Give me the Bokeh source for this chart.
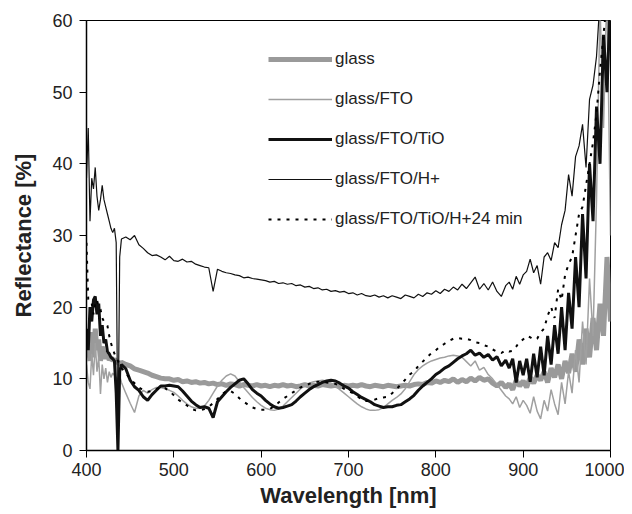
from bokeh.plotting import figure
from bokeh.models import Legend, LegendItem, Range1d, FixedTicker
from bokeh.embed import file_html
from bokeh.resources import INLINE

# wavelength grid [nm]
wavelength = list(range(400, 441, 2)) + list(range(445, 881, 5)) + list(range(884, 1001, 4))

series_names = ["glass", "glass/FTO", "glass/FTO/TiO", "glass/FTO/H+", "glass/FTO/TiO/H+24 min"]

glass = [
    13, 15, 12.5, 16.5, 13, 17, 14, 15.5, 12.5, 14.5, 13.5, 12.8, 13.5, 12.6, 13, 12.5, 12.8, 12.2, 12.4, 12, 12.3,
    12.0, 11.8, 11.4, 11.2, 11.0, 10.8, 10.5, 10.3, 10.1, 10.0,
    10.0, 9.8, 9.9, 9.6, 9.7, 9.5, 9.6, 9.4, 9.5, 9.3,
    9.4, 9.2, 9.3, 9.1, 9.3, 9.2, 9.0, 9.2, 9.1, 9.0,
    9.2, 9.0, 9.1, 8.9, 9.1, 9.0, 9.2, 9.0, 9.1, 8.9,
    9.0, 9.2, 9.0, 9.1, 9.0, 9.2, 9.1, 9.0, 9.1, 8.9,
    9.1, 9.0, 9.1, 9.0, 9.2, 9.0, 8.9, 9.1, 9.0, 8.9,
    9.1, 9.0, 8.9, 9.0, 9.1, 9.0, 9.2, 9.3, 9.2, 9.5,
    9.4, 9.7, 9.5, 9.8, 9.6, 10.0, 9.5, 9.9, 9.6, 10.1,
    9.7, 10.2, 9.8, 10.0, 9.4, 9.0, 9.5, 8.8,
    9.3, 8.5, 9.8, 9.0, 9.7, 8.8, 10.2, 9.4, 10.5, 9.8,
    11.0, 9.5, 11.5, 10.2, 12.0, 10.0, 12.5, 10.8, 13.5, 11.0,
    15.5, 12.0, 17.0, 13.0, 18.5, 14.0, 20.5, 16.0, 27.0, 18.0,
]

glass_fto = [
    12, 9.5, 8.6, 13.5, 10.5, 15, 11, 13, 7.9, 12, 10, 11.5, 9.5, 11, 10.2, 10.8, 10.5, 10.2, 9.8, 10.5, 9.5,
    8.0, 6.6, 5.3, 7.6, 8.4, 8.0, 8.5, 8.8, 8.8, 8.6,
    8.4, 8.1, 7.6, 7.0, 6.5, 6.1, 5.9, 5.9, 6.2, 7.0,
    8.0, 9.0, 9.8, 10.4, 10.7, 10.4, 9.6, 8.8, 8.1, 7.4,
    6.8, 6.3, 5.9, 5.7, 5.6, 5.8, 6.2, 6.8, 7.4, 8.0,
    8.6, 9.1, 9.4, 9.6, 9.7, 9.8, 9.7, 9.4, 9.0, 8.5,
    8.0, 7.5, 7.0, 6.5, 6.1, 5.8, 5.6, 5.6, 5.7, 6.0,
    6.5, 7.0, 7.4, 7.9, 8.6, 9.6, 10.6, 11.3, 11.8, 12.2,
    12.5, 12.7, 12.9, 13.0, 13.2, 13.3, 13.2, 13.0, 12.4, 11.8,
    12.5, 11.2, 11.6, 10.6, 10.0, 9.2, 8.4, 7.6,
    7.2, 6.5, 7.5, 6.0, 7.0, 6.3, 5.2, 7.5, 5.5, 4.4,
    7.0, 5.5, 8.5, 6.5, 5.0, 9.5, 6.5, 11.0, 8.0, 14.0,
    9.5, 18.0, 12.0, 24.0, 16.0, 35.0, 62.0, 45.0, 65.0, 30.0,
]

glass_fto_tio = [
    17, 14, 20, 18, 21, 21.5, 19, 20.5, 16, 17.5, 15, 15.5, 13.8, 13.5, 13, 12.8, 12.5, 8, 0, 11, 12,
    11.4, 9.8, 8.9, 8.4, 7.5, 7.0, 7.8, 8.4, 9.0, 9.0,
    9.1, 9.0, 8.9, 8.3, 7.6, 6.9, 6.4, 6.0, 6.1, 5.9,
    4.6, 6.8, 7.5, 8.2, 8.8, 9.3, 9.8, 10.0, 9.3, 8.5,
    8.0, 7.6, 7.0, 6.5, 6.1, 5.9, 6.0, 6.2, 6.4, 6.9,
    7.5, 8.0, 8.5, 8.9, 9.2, 9.5, 9.7, 9.8, 9.7, 9.4,
    9.0, 8.7, 8.2, 7.8, 7.4, 7.1, 6.8, 6.4, 6.2, 6.0,
    6.1, 6.1, 6.3, 6.4, 6.8, 7.2, 7.7, 8.4, 9.0, 9.5,
    10.0, 10.6, 11.0, 11.5, 11.8, 12.3, 12.8, 13.2, 13.5, 14.0,
    13.3, 13.6, 13.0, 13.4, 12.6, 13.1, 11.8, 12.6,
    11.5, 12.8, 9.5, 12.5, 10.5, 12.8, 9.6, 13.5, 10.2, 14.5,
    10.5, 16.0, 12.0, 17.5, 13.5, 20.0, 14.0, 22.0, 17.0, 27.0,
    20.0, 33.0, 24.0, 40.0, 32.0, 48.0, 40.0, 58.0, 50.0, 64.0,
]

glass_fto_h = [
    38, 45, 32, 38, 36.5, 39.5, 35.5, 33.5, 35, 37, 35, 34, 33, 32, 31, 30.4, 31, 29, 0.3, 27, 29.5,
    29.8, 29.4, 30.0, 28.7, 28.2, 27.6, 27.2, 27.3, 27.0, 26.6,
    27.1, 26.5, 26.4, 26.7, 26.3, 26.4, 26.0, 25.8, 25.6, 25.5,
    22.2, 25.3, 25.0, 24.8, 24.7, 24.5, 24.4, 24.1, 24.2, 24.0,
    23.9, 23.8, 23.7, 23.5, 23.6, 23.3, 23.4, 23.2, 23.3, 23.0,
    23.1, 22.8, 22.9, 22.6, 22.7, 22.4, 22.5, 22.2, 22.3, 22.1,
    22.2, 21.9, 22.0, 21.7, 21.9, 21.6, 21.5, 21.7, 21.4, 21.6,
    21.3, 21.6, 21.4, 21.2, 21.7, 21.5, 21.3, 21.8, 21.5, 22.0,
    21.8, 22.3, 21.9, 22.5, 22.2, 22.8, 22.4, 23.2, 22.6, 23.4,
    24.2, 22.5, 23.3, 22.4, 23.5, 22.2, 21.5, 23.0,
    23.5, 22.5, 24.3, 23.2, 24.5, 25.0, 26.7, 24.8, 25.8, 23.2,
    27.0, 27.6, 26.5, 29.0, 28.3, 31.5, 33.5, 38.5, 35.5, 41.0,
    42.5, 45.5, 39.5, 49.0, 51.0, 55.0, 63.0, 70.0, 62.0, 70.0,
]

glass_fto_tio_h24 = [
    29, 21, 21, 20.5, 19, 20.5, 21, 20, 19.7, 18.5, 18, 17.8, 17.4, 16, 15, 14.2, 13.5, 13, 12.5, 12, 11.5,
    10.8, 10.0, 9.4, 8.8, 8.4, 8.2, 8.3, 8.6, 8.8, 8.7,
    8.3, 7.7, 7.1, 6.7, 6.3, 5.8, 5.6, 5.6, 5.8, 6.1,
    6.6, 7.2, 7.8, 8.3, 8.3, 7.9, 7.3, 6.8, 6.4, 6.0,
    5.8, 5.7, 5.7, 5.8, 6.2, 6.7, 7.2, 7.6, 8.0, 8.4,
    8.8, 9.0, 9.3, 9.5, 9.6, 9.6, 9.5, 9.4, 9.3, 9.0,
    8.6, 8.3, 8.0, 7.6, 7.1, 6.9, 6.9, 7.1, 7.3, 7.4,
    7.5, 8.0, 8.6, 9.2, 9.9, 10.6, 11.0, 11.8, 12.4, 13.0,
    13.6, 14.0, 14.5, 14.9, 15.3, 15.6, 15.7, 15.6, 15.6, 15.4,
    15.1, 15.0, 14.7, 14.5, 14.1, 13.8, 13.6, 14.0,
    13.8, 13.9, 14.5, 15.2, 15.5, 16.0, 15.8, 15.5, 15.6, 16.5,
    17.0, 18.8, 20.0, 18.5, 22.5, 21.0, 24.5, 26.0, 27.0, 30.0,
    33.0, 34.0, 37.0, 40.0, 43.0, 47.0, 53.0, 58.0, 63.0, 66.0,
]

x_ticks = [400, 500, 600, 700, 800, 900, 1000]
y_ticks = [0, 10, 20, 30, 40, 50, 60]

FONT = "Liberation Sans"
TXT = "#222222"

p = figure(width=624, height=510, x_range=Range1d(400, 1000), y_range=Range1d(0, 60),
           output_backend="svg", toolbar_location=None,
           min_border_left=86, min_border_right=14, min_border_top=20, min_border_bottom=58)
p.xgrid.grid_line_color = None
p.ygrid.grid_line_color = None
p.outline_line_color = "black"
p.outline_line_width = 1
p.background_fill_color = "white"
p.border_fill_color = "white"

for ax in (p.xaxis[0], p.yaxis[0]):
    ax.minor_tick_line_color = None
    ax.major_tick_in = 0
    ax.major_tick_out = 7
    ax.major_tick_line_color = "black"
    ax.axis_line_color = "black"
    ax.axis_line_width = 1.5
    ax.major_label_text_font = FONT
    ax.major_label_text_font_size = "18px"
    ax.major_label_text_color = TXT
    ax.axis_label_text_font = FONT
    ax.axis_label_text_font_size = "22px"
    ax.axis_label_text_font_style = "bold"
    ax.axis_label_text_color = TXT

p.xaxis.ticker = FixedTicker(ticks=x_ticks)
p.yaxis.ticker = FixedTicker(ticks=y_ticks)
p.xaxis.axis_label = "Wavelength [nm]"
p.yaxis.axis_label = "Reflectance [%]"
p.xaxis.major_label_standoff = 5
p.xaxis.axis_label_standoff = 4
p.yaxis.major_label_standoff = 7
p.yaxis.axis_label_standoff = 13

r_glass = p.line(wavelength, glass, line_color="#9a9a9a", line_width=5)
r_fto = p.line(wavelength, glass_fto, line_color="#a0a0a0", line_width=1.5)
r_tio = p.line(wavelength, glass_fto_tio, line_color="#111111", line_width=3)
r_h = p.line(wavelength, glass_fto_h, line_color="#111111", line_width=1.2)
r_h24 = p.line(wavelength, glass_fto_tio_h24, line_color="black", line_width=2, line_dash="3 6")

renderers = [r_glass, r_fto, r_tio, r_h, r_h24]
items = [LegendItem(label=n, renderers=[r]) for n, r in zip(series_names, renderers)]
legend = Legend(items=items, location=(182, 221), border_line_color=None,
                background_fill_alpha=0, glyph_width=64, glyph_height=20,
                label_height=20, spacing=20, padding=0, margin=0, label_standoff=3,
                label_text_font=FONT, label_text_font_size="17px", label_text_font_style="normal",
                label_text_color=TXT)
p.add_layout(legend)

open("out.html", "w").write(file_html(p, INLINE))
